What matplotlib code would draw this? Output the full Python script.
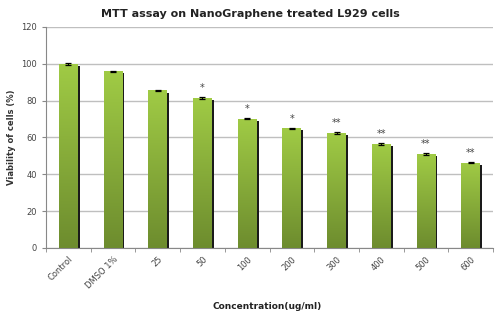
import numpy as np
import matplotlib.pyplot as plt
from matplotlib.colors import LinearSegmentedColormap

# data
groups = ["Control", "DMSO 1%", "25", "50", "100", "200", "300", "400", "500", "600"]
viability = [100, 96, 85.5, 81.5, 70.2, 65, 62.4, 56.4, 51, 46.3]
errors = [0.4, 0.2, 0.5, 0.4, 0.3, 0.3, 0.3, 0.4, 0.3, 0.4]
stars = ["", "", "", "*", "*", "*", "**", "**", "**", "**"]

fig = plt.figure(figsize=(5, 3.19), dpi=100)
ax = fig.add_axes([0.092, 0.2226, 0.894, 0.693])

x = np.arange(len(groups))
width = 0.42

# dark shadow behind each bar
ax.bar(x + 0.045, [v - 1.2 for v in viability], width, bottom=0, color="#1a1a1a", zorder=2)
bars = ax.bar(x, viability, width, color="none", zorder=3)

# vertical gradient for the bars
cmap = LinearSegmentedColormap.from_list("g", ["#6d8c2e", "#a0cb45"])
grad = np.linspace(0, 1, 256).reshape(-1, 1)
for b in bars:
    bx = b.get_x()
    im = ax.imshow(grad, cmap=cmap, origin="lower", aspect="auto",
                   extent=[bx, bx + b.get_width(), 0, b.get_height()], zorder=3)
    im.set_clip_path(b)

ax.errorbar(x, viability, yerr=errors, fmt="none", ecolor="black",
            elinewidth=0.8, capsize=2, capthick=0.9, zorder=4)

for xi, v, s in zip(x, viability, stars):
    if s:
        ax.text(xi, v + 2.5, s, ha="center", va="bottom", fontsize=7, color="#444444")

ax.set_xlim(-0.5, len(groups) - 0.5)
ax.set_ylim(0, 120)
ax.set_yticks(range(0, 121, 20))
ax.yaxis.grid(True, color="#bfbfbf", linewidth=1)
ax.set_axisbelow(True)

ax.set_xticks(x)
ax.set_xticklabels(groups, rotation=45, ha="right", rotation_mode="anchor",
                   fontsize=6, color="#444444")
ax.set_xticks(np.arange(-0.5, len(groups)), minor=True)
ax.tick_params(axis="x", which="major", length=0, pad=5)
ax.tick_params(axis="x", which="minor", length=3, color="#888888")
ax.tick_params(axis="y", labelsize=6, labelcolor="#444444", length=3, color="#888888")

for side in ["top", "right"]:
    ax.spines[side].set_visible(False)
ax.spines["left"].set_color("#888888")
ax.spines["bottom"].set_color("#888888")

ax.set_ylabel("Viability of cells (%)", fontsize=6, fontweight="semibold", color="#333333")
fig.text(0.535, 0.03, "Concentration(ug/ml)", ha="center", fontsize=6.5,
         fontweight="semibold", color="#222222")
fig.text(0.5, 0.955, "MTT assay on NanoGraphene treated L929 cells", ha="center",
         va="center", fontsize=8, fontweight="bold", color="#222222")

fig.savefig("out.png", dpi=100)
